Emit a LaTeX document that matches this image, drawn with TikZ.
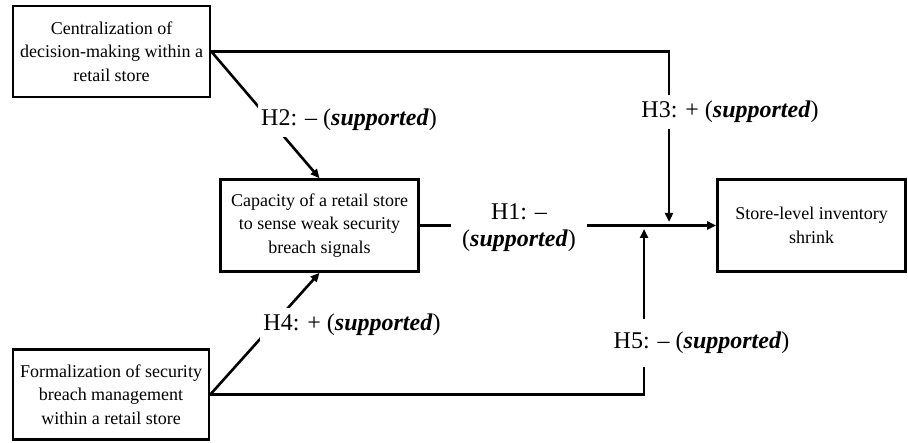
\documentclass[tikz,border=0pt]{standalone}
\usepackage{fontspec}
\setmainfont{Liberation Serif}
\usetikzlibrary{arrows.meta}
\begin{document}
\begin{tikzpicture}[x=1pt,y=-1pt,
  box/.style={draw, line width=2.6pt, rectangle, align=center,
    font=\fontsize{18}{23.5}\selectfont, inner sep=0pt},
  conn/.style={line width=2.6pt},
  arr/.style={conn, -{Triangle[length=9pt,width=8pt]}},
  hlabel/.style={fill=white, font=\fontsize{24}{27}\selectfont,
    inner xsep=3pt, inner ysep=6pt, align=center}
]
\useasboundingbox (0,0) rectangle (908,443);

% boxes
\node[box, minimum width=197pt, minimum height=91pt] (A) at (111.5,51.5)
  {Centralization of\\decision-making within a\\retail store};
\node[box, minimum width=198pt, minimum height=92pt] (B) at (319.5,225.5)
  {Capacity of a retail store\\to sense weak security\\breach signals};
\node[box, minimum width=196pt, minimum height=90pt] (C) at (111,394.5)
  {Formalization of security\\breach management\\within a retail store};
\node[box, minimum width=188pt, minimum height=92pt] (D) at (811.5,225.5)
  {Store-level inventory\\shrink};

% free ends of the moderating arrows
\coordinate (t3) at (669,222);
\coordinate (t5) at (644,229);

% connectors
\draw[arr] (A.east) -- (B.north);
\draw[arr] (C.east) -- (B.south);
\draw[arr] (B.east) -- (D.west);
\draw[arr] (A.east) -| (t3);
\draw[arr] (C.east) -| (t5);

% labels
\node[hlabel] (h2) at (349,120) {H2: -- (\textbf{\textit{supported}})};
\node[hlabel] (h4) at (352,325) {H4: + (\textbf{\textit{supported}})};
\node[hlabel] (h3) at (730,112) {H3: + (\textbf{\textit{supported}})};
\node[hlabel, inner ysep=13pt] (h5) at (701.5,343) {H5: -- (\textbf{\textit{supported}})};
\node[hlabel, inner xsep=11pt, inner ysep=3pt] (h1) at (519,228)
  {H1: --\\(\textbf{\textit{supported}})};
\end{tikzpicture}
\end{document}
